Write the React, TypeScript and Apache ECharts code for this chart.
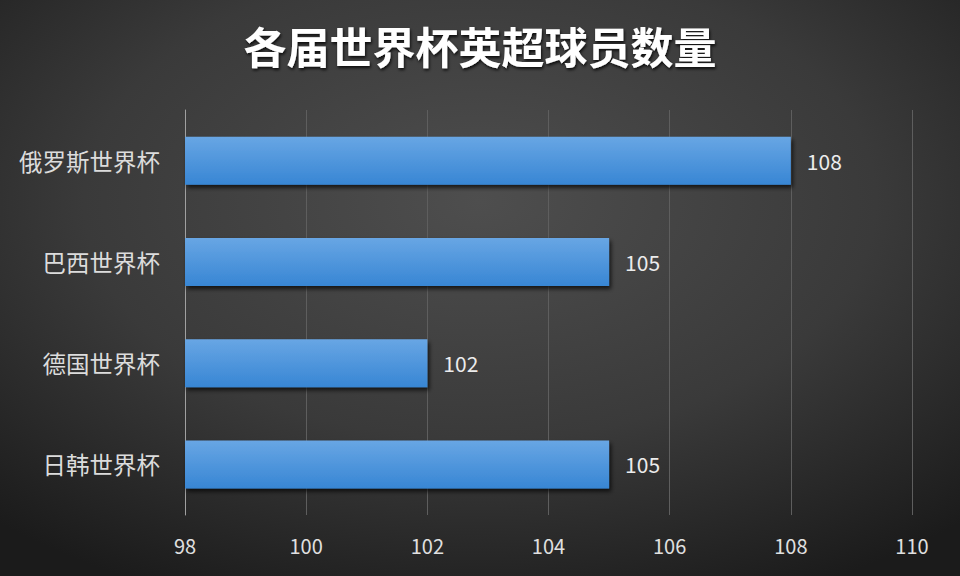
import React, { useEffect, useRef } from "react";
import * as echarts from "echarts";

const titleText = "各届世界杯英超球员数量";
const categories = ["俄罗斯世界杯", "巴西世界杯", "德国世界杯", "日韩世界杯"];
const values = [108, 105, 102, 105];
const xMin = 98;
const xMax = 110;
const xInterval = 2;

export default function App() {
  const ref = useRef<HTMLDivElement>(null);
  useEffect(() => {
    document.body.style.margin = "0";
    const chart = echarts.init(ref.current!, undefined, { renderer: "svg" });
    const font = "'Noto Sans CJK SC', 'Noto Sans', sans-serif";
    chart.setOption({
      animation: false,
      graphic: [
        {
          type: "rect",
          z: -10,
          silent: true,
          shape: { x: 0, y: 0, width: 960, height: 576 },
          style: {
            fill: new echarts.graphic.RadialGradient(0.5, 0.35, 0.75, [
              { offset: 0, color: "#4e4e4e" },
              { offset: 0.55, color: "#3a3a3a" },
              { offset: 1, color: "#1b1b1b" },
            ]),
          },
        },
      ],
      title: {
        text: titleText,
        left: "center",
        top: 18,
        textStyle: {
          color: "#ffffff",
          fontSize: 43,
          fontWeight: "bold",
          fontFamily: font,
          textShadowColor: "rgba(0,0,0,0.8)",
          textShadowBlur: 3,
          textShadowOffsetX: 1,
          textShadowOffsetY: 2,
        },
      },
      grid: { left: 185, right: 48, top: 110, bottom: 61, containLabel: false },
      xAxis: {
        type: "value",
        min: xMin,
        max: xMax,
        interval: xInterval,
        axisLine: { show: false },
        axisTick: { show: false },
        splitLine: { show: true, lineStyle: { color: "#5e5e5e", width: 1 } },
        axisLabel: { color: "#e0e0e0", fontSize: 20, margin: 20, fontFamily: font },
      },
      yAxis: {
        type: "category",
        inverse: true,
        data: categories,
        axisLine: { show: true, lineStyle: { color: "#a0a0a0", width: 1 } },
        axisTick: { show: false },
        axisLabel: { color: "#dcdcdc", fontSize: 23.5, margin: 25, fontFamily: font },
      },
      series: [
        {
          type: "bar",
          data: values,
          barWidth: 48,
          itemStyle: {
            color: new echarts.graphic.LinearGradient(0, 0, 0, 1, [
              { offset: 0, color: "#68a6e4" },
              { offset: 1, color: "#3886d4" },
            ]),
            shadowColor: "rgba(0,0,0,0.7)",
            shadowBlur: 4,
            shadowOffsetX: 2,
            shadowOffsetY: 3,
          },
          label: {
            show: true,
            position: "right",
            distance: 16,
            color: "#ececec",
            fontSize: 21,
            fontFamily: font,
          },
        },
      ],
    });
    return () => chart.dispose();
  }, []);
  return <div ref={ref} style={{ width: 960, height: 576 }} />;
}
